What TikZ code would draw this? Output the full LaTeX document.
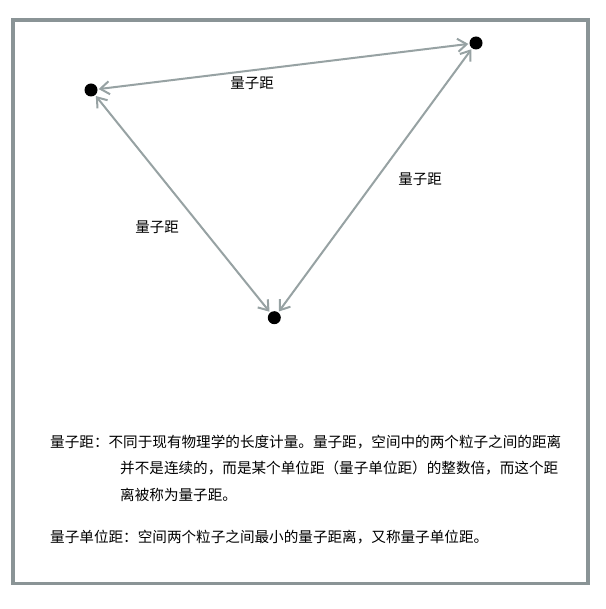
\documentclass[tikz,border=0pt]{standalone}
\usepackage{fontspec}
\setmainfont{Noto Sans CJK SC}
\usetikzlibrary{arrows.meta}
\definecolor{framegray}{HTML}{8A9496}
\definecolor{arrowgray}{HTML}{97A2A3}
\tikzset{
  particle/.style={circle,fill=black,inner sep=0pt,minimum size=13pt},
  qarrow/.style={draw=arrowgray,line width=2pt,{Straight Barb[length=9pt,width=13pt]}-{Straight Barb[length=9pt,width=13pt]},shorten >=1pt,shorten <=1pt},
  qlabel/.style={font=\fontsize{14.5}{16}\selectfont,inner sep=0pt},
  para/.style={font=\fontsize{14.6}{16}\selectfont,inner sep=0pt,anchor=west}
}
\begin{document}
\begin{tikzpicture}[x=1pt,y=-1pt]
\useasboundingbox (0,0) rectangle (605,609);
\fill[white] (0,0) rectangle (605,609);
\draw[framegray,line width=3.6pt] (13,20) rectangle (588,583.5);
\node[particle] (a) at (91,90) {};
\node[particle] (b) at (476,43) {};
\node[particle] (c) at (274.3,317.7) {};
\draw[qarrow] (a) -- (b);
\draw[qarrow] (b) -- (c);
\draw[qarrow] (a) -- (c);
\node[qlabel] (l1) at (252,83) {量子距};
\node[qlabel] (l2) at (420,179) {量子距};
\node[qlabel] (l3) at (157,227) {量子距};
\node[para] (p1) at (50,442) {量子距：不同于现有物理学的长度计量。量子距，空间中的两个粒子之间的距离};
\node[para] (p2) at (120,468.5) {并不是连续的，而是某个单位距（量子单位距）的整数倍，而这个距};
\node[para] (p3) at (120,495) {离被称为量子距。};
\node[para] (p4) at (50,537) {量子单位距：空间两个粒子之间最小的量子距离，又称量子单位距。};
\end{tikzpicture}
\end{document}
